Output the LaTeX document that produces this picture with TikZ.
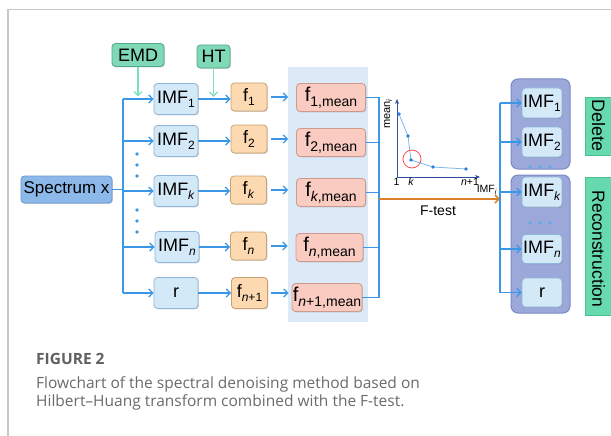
\documentclass[tikz,border=0pt]{standalone}
\usepackage{fontspec}
\setmainfont{Liberation Sans}
\newfontfamily\capfont{Open Sans}
\usetikzlibrary{arrows.meta,shadows}
\definecolor{imfF}{HTML}{D4E9F8}
\definecolor{imfD}{HTML}{8DB6DA}
\definecolor{fF}{HTML}{FCD9B0}
\definecolor{fD}{HTML}{C7A274}
\definecolor{fmF}{HTML}{F9CBC1}
\definecolor{fmD}{HTML}{CF9A8E}
\definecolor{emdF}{HTML}{7FD8B6}
\definecolor{emdD}{HTML}{4FA88A}
\definecolor{specF}{HTML}{8CB8EA}
\definecolor{specD}{HTML}{6A98D2}
\definecolor{blueA}{HTML}{3A97E8}
\definecolor{greenA}{HTML}{7EE0BC}
\definecolor{orangeA}{HTML}{D9822B}
\definecolor{panelF}{HTML}{DCEAF8}
\definecolor{grpF}{HTML}{9CA8DA}
\definecolor{grpD}{HTML}{7B89C6}
\definecolor{labF}{HTML}{66DAAE}
\definecolor{labD}{HTML}{4FBF92}
\definecolor{navyA}{HTML}{2A4FA0}
\definecolor{ptA}{HTML}{2C7ED8}
\definecolor{lnA}{HTML}{79B8EE}
\definecolor{capG}{HTML}{6B6B6B}
\newcommand\lo[1]{\raisebox{-0.45ex}{\fontsize{12}{12}\selectfont #1}}
\newcommand\lom[1]{\raisebox{-0.45ex}{\fontsize{14}{14}\selectfont #1}}
\tikzset{
  box/.style={draw, rounded corners=3.5pt, line width=0.8pt, inner sep=1pt,
    font=\fontsize{18}{20}\selectfont,
    drop shadow={shadow xshift=0.9pt,shadow yshift=-0.9pt,opacity=0.35}},
  imf/.style={box, fill=imfF, draw=imfD, minimum width=44pt, minimum height=31pt},
  fbox/.style={box, fill=fF, draw=fD, minimum width=36pt, minimum height=28pt},
  fm/.style={box, fill=fmF, draw=fmD, minimum width=69pt, minimum height=28pt},
  topbox/.style={box, fill=emdF, draw=emdD, minimum height=23pt},
  arr/.style={blueA, line width=1.3pt, -{Straight Barb[length=4pt,width=8pt,line width=1.3pt]}},
  bl/.style={blueA, line width=1.3pt},
  garr/.style={greenA, line width=1.3pt, -{Straight Barb[length=4pt,width=8pt,line width=1.3pt]}},
  grp/.style={draw=grpD, fill=grpF, line width=1pt, rounded corners=7pt},
  labbox/.style={draw=labD, fill=labF, line width=0.6pt, minimum width=27pt, inner sep=0pt},
  dotnode/.style={fill=blueA, draw=none, circle, minimum size=3.6pt, inner sep=0pt},
  captxt/.style={anchor=base west, text=capG, inner sep=0pt, font=\capfont\fontsize{15.5}{18}\selectfont}
}
\begin{document}
\begin{tikzpicture}[x=1pt,y=-1pt]
\useasboundingbox (0,0) rectangle (611,436);
\fill[white] (0,0) rectangle (611,436);
\draw[black!22, line width=1.5pt] (8,436) -- (8,9.5) -- (611,9.5);
% panel
\fill[panelF] (288,67) rectangle (368,322);
% top boxes
\node[topbox, minimum width=52pt] (emd) at (138,55) {EMD};
\node[topbox, minimum width=33pt] (ht) at (213.5,56.5) {HT};
% spectrum
\node[box, fill=specF, draw=specD, minimum width=91pt, minimum height=27pt, font=\fontsize{17}{19}\selectfont] (spec) at (66.5,189.5) {Spectrum x};
% IMF nodes
\node[imf] (i1) at (176,99) {IMF\lo{1}};
\node[imf] (i2) at (176,141) {IMF\lo{2}};
\node[imf] (ik) at (176,191) {IMF\lo{\textit{k}}};
\node[imf] (in) at (177,247) {IMF\lo{\textit{n}}};
\node[imf] (ir) at (176,293) {r};
% f nodes
\node[fbox] (f1) at (249,97) {f\lo{1}};
\node[fbox] (f2) at (249,139) {f\lo{2}};
\node[fbox] (fk) at (248.5,190) {f\lo{\textit{k}}};
\node[fbox] (fn) at (248.5,246) {f\lo{\textit{n}}};
\node[fbox, minimum height=31pt] (fr) at (249.5,293) {f\lo{\textit{n}+1}};
% fmean nodes
\node[fm, font=\fontsize{20}{22}\selectfont] (m1) at (331,97.5) {f\lom{1,mean}};
\node[fm, font=\fontsize{20}{22}\selectfont] (m2) at (331,142.5) {f\lom{2,mean}};
\node[fm, font=\fontsize{20}{22}\selectfont] (mk) at (331,192.5) {f\lom{\textit{k},mean}};
\node[fm, font=\fontsize{20}{22}\selectfont, minimum width=67pt] (mn) at (329.5,247.5) {f\lom{\textit{n},mean}};
\node[fm, font=\fontsize{20}{22}\selectfont, minimum width=70pt, inner sep=0pt] (mr) at (327,297.5) {f\lom{\textit{n}+1,mean}};
% left trunk
\coordinate (t1) at (123,99);
\coordinate (tr) at (123,293);
\draw[bl] (t1) -- (tr);
\draw[bl] (spec.east) -- (spec.east -| t1);
\foreach \n in {i1,i2,ik,in,ir}{
  \draw[arr] (\n.west -| t1) -- (\n.west);
}
\draw[garr] (emd.south) -- ++(0,29.5);
\draw[garr] (ht.south) -- ++(0,28.5);
% dots left
\foreach \y/\k in {154/a,165/b,176/c,210/d,221/e,232/f}{
  \node[dotnode] (ld\k) at (137,\y) {};
}
% IMF -> f
\draw[arr] (i1.east) -- (i1.east -| f1.west);
\draw[arr] (i2.east) -- (i2.east -| f2.west);
\draw[arr] (ik.east) -- (ik.east -| fk.west);
\draw[arr] (in.east) -- (in.east -| fn.west);
\draw[arr] (ir.east) -- (ir.east -| fr.west);
% f -> fmean
\foreach \a/\b in {f1/m1,f2/m2,fk/mk,fn/mn}{
  \draw[arr, shorten <=4pt, shorten >=8pt] (\a.east) -- (\a.east -| \b.west);
}
\draw[arr, shorten <=3pt, shorten >=3pt] (fr.east) -- (fr.east -| mr.west);
% collector
\coordinate (c1) at (379,97.5);
\coordinate (cr) at (379,297.5);
\draw[bl] (c1) -- (cr);
\foreach \n in {m1,m2,mk,mn,mr}{
  \draw[bl] (\n.east) -- (\n.east -| c1);
}
% orange F-test arrow
\coordinate (o1) at (379,199);
\coordinate (o2) at (500,199);
\draw[orangeA, line width=1.5pt, -{Straight Barb[length=4pt,width=8pt,line width=1.5pt]}] (o1) -- (o2);
\node[font=\fontsize{14}{16}\selectfont] (ftest) at (438,211) {F-test};
% chart
\coordinate (ax0) at (397,177);
\draw[navyA, line width=1pt, -{Stealth[length=5pt,width=4pt]}] (ax0) -- (397,99);
\draw[navyA, line width=1pt, -{Stealth[length=5pt,width=4pt]}] (ax0) -- (480,177);
\draw[lnA, line width=0.8pt] (399,114) -- (408,136) -- (411,160) -- (433,167) -- (466,169);
\foreach \x/\y in {399/114,408/136,411/160,433/167,466/169}{
  \fill[ptA] (\x,\y) circle (1.9pt);
}
\draw[red!75, line width=0.7pt] (412,159) circle (9pt);
\node[rotate=90, font=\fontsize{11}{11}\selectfont, inner sep=0pt] (ylab) at (388,114) {mean\textsubscript{\textit{i}}};
\node[font=\fontsize{10.5}{11}\selectfont, inner sep=0pt] (x1) at (396.5,182) {1};
\node[font=\fontsize{10.5}{11}\selectfont\itshape, inner sep=0pt] (xk) at (411,182) {k};
\node[font=\fontsize{10.5}{11}\selectfont, inner sep=0pt] (xn) at (470,182) {\textit{n}+1};
\node[font=\fontsize{10.5}{11}\selectfont, inner sep=0pt] (xl) at (487,190) {IMF\textsubscript{\textit{i}}};
% right groups
\node[grp, minimum width=59pt, minimum height=90pt] (gdel) at (540.5,124) {};
\node[grp, minimum width=59pt, minimum height=138pt] (grec) at (540.5,244) {};
\node[imf, minimum width=40pt, minimum height=30pt] (d1) at (542,103) {IMF\lo{1}};
\node[imf, minimum width=40pt, minimum height=30pt] (d2) at (542,142) {IMF\lo{2}};
\node[imf, minimum width=40pt, minimum height=30pt] (rk) at (542,192) {IMF\lo{\textit{k}}};
\node[imf, minimum width=40pt, minimum height=29pt] (rn) at (542,249) {IMF\lo{\textit{n}}};
\node[imf, minimum width=40pt, minimum height=29pt] (rr) at (542,292.5) {r};
\foreach \x/\k in {530/a,540/b,550/c}{
  \node[dotnode, fill=blueA!80] (dd\k) at (\x,167) {};
  \node[dotnode, fill=blueA!80] (rd\k) at (\x,223) {};
}
% right trunk
\coordinate (q1) at (500,103);
\coordinate (qr) at (500,292.5);
\draw[bl] (q1) -- (qr);
\foreach \n in {d1,d2,rk,rn,rr}{
  \draw[arr] (\n.west -| q1) -- (\n.west);
}
% labels
\node[labbox, minimum height=58pt] (ldel) at (598.5,126) {};
\node[rotate=-90, font=\fontsize{18}{20}\selectfont, inner sep=0pt] (tdel) at (598.5,126) {Delete};
\node[labbox, minimum height=138pt] (lrec) at (598.5,246) {};
\node[rotate=-90, font=\fontsize{17.5}{20}\selectfont, inner sep=0pt] (trec) at (598.5,249) {Reconstruction};
% caption
\node[captxt, font=\capfont\bfseries\fontsize{15.5}{18}\selectfont, text=capG!90!black] (c0) at (36,364) {FIGURE 2};
\node[captxt] (c2) at (36,388) {Flowchart of the spectral denoising method based on};
\node[captxt] (c3) at (36,406) {Hilbert–Huang transform combined with the F-test.};
\end{tikzpicture}
\end{document}
